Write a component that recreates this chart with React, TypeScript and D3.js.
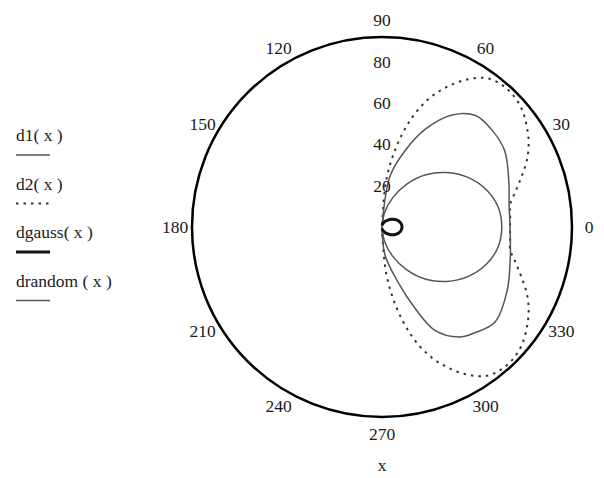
import React from "react";
import * as d3 from "d3";

// Sample angles (degrees) shared by the smooth patterns
const angles = [-90, -80, -70, -60, -50, -40, -30, -20, -10, 0, 10, 20, 30, 40, 50, 60, 70, 80, 90];
const d1Values = [0, 7, 15, 24, 33, 41, 48, 53.5, 57, 58, 57, 53.5, 48, 41, 33, 24, 15, 7, 0];
const dgaussValues = [0.8, 1.3, 2.1, 3.2, 4.4, 5.9, 7.3, 8.6, 9.4, 9.7, 9.4, 8.6, 7.3, 5.9, 4.4, 3.2, 2.1, 1.3, 0.8];

// d2 is sampled more finely
const d2Angles = [-90, -85, -80, -75, -70, -65, -60, -55, -50, -45, -40, -35, -30, -25, -20, -15, -10, -5, 0,
  5, 10, 15, 20, 25, 30, 35, 40, 45, 50, 55, 60, 65, 70, 75, 80, 85, 90];
const d2Values = [0, 22, 39, 54, 66, 75, 82.5, 88, 90, 90, 88.5, 85.5, 82, 77.5, 72, 67, 63, 62.3, 62,
  62.3, 63, 67, 72, 77.5, 82, 85.5, 88.5, 90, 90, 88, 82.5, 75, 66, 54, 39, 22, 0];

// Noisy measured pattern
const drandomAngles = [-90, -84, -74, -68, -63, -55, -49, -40, -27, -14, 0, 10, 19, 32, 42, 50, 58, 66, 73, 81, 90];
const drandomValues = [0, 13.5, 27.5, 42, 56, 65, 68, 71.5, 68, 64, 62, 62.5, 65, 70, 71, 70.5, 64, 52, 39, 25, 0];

const angleTicks = [0, 30, 60, 90, 120, 150, 180, 210, 240, 270, 300, 330];
const radialTicks = [20, 40, 60, 80];
const rMax = 92;

const legendItems = [
  { label: "d1( x )", key: "d1" },
  { label: "d2( x )", key: "d2" },
  { label: "dgauss( x )", key: "dgauss" },
  { label: "drandom ( x )", key: "drandom" },
];

const styles: Record<string, { stroke: string; width: number; dash?: string }> = {
  d1: { stroke: "#555", width: 1.5 },
  d2: { stroke: "#333", width: 2, dash: "2.5 5" },
  dgauss: { stroke: "#111", width: 3 },
  drandom: { stroke: "#555", width: 1.5 },
};

const FONT = "Liberation Serif, DejaVu Serif, serif";

export default function App() {
  const W = 604;
  const H = 478;
  const cx = 382;
  const cy = 227;
  const R = 190;
  const fs = 17.5;

  const r = d3.scaleLinear().domain([0, rMax]).range([0, R]);
  const toRad = (deg: number) => (deg * Math.PI) / 180;

  const radial = d3
    .lineRadial<[number, number]>()
    .angle((d) => Math.PI / 2 - toRad(d[0]))
    .radius((d) => r(d[1]))
    .curve(d3.curveCatmullRom);

  const zip = (a: number[], v: number[]) => a.map((t, i) => [t, v[i]] as [number, number]);

  const series = [
    { key: "d2", path: radial(zip(d2Angles, d2Values)) },
    { key: "drandom", path: radial(zip(drandomAngles, drandomValues)) },
    { key: "d1", path: radial(zip(angles, d1Values)) },
    { key: "dgauss", path: radial(zip(angles, dgaussValues)) },
  ];

  const labelR = R + 17;
  const textStyle = { fontFamily: FONT, fontSize: fs, fill: "#1a1a1a" } as React.CSSProperties;

  return (
    <svg width={W} height={H} style={{ position: "absolute", left: 0, top: 0, background: "#fff" }}>
      <rect width={W} height={H} fill="#fff" />
      <g transform={`translate(${cx},${cy})`}>
        <circle r={r(rMax)} fill="none" stroke="#000" strokeWidth={2.5} />
        {series.map((s) => {
          const st = styles[s.key];
          return (
            <path
              key={s.key}
              d={s.path || ""}
              fill="none"
              stroke={st.stroke}
              strokeWidth={st.width}
              strokeDasharray={st.dash}
              strokeLinejoin="round"
            />
          );
        })}
        {radialTicks.map((t) => (
          <text key={t} x={0} y={-r(t)} textAnchor="middle" dominantBaseline="central" style={textStyle}>
            {t}
          </text>
        ))}
        {angleTicks.map((a) => (
          <text
            key={a}
            x={labelR * Math.cos(toRad(a))}
            y={-labelR * Math.sin(toRad(a))}
            textAnchor="middle"
            dominantBaseline="central"
            style={textStyle}
          >
            {a}
          </text>
        ))}
        <text x={0} y={R + 48} textAnchor="middle" dominantBaseline="central" style={textStyle}>
          x
        </text>
      </g>
      <g transform="translate(16,0)">
        {legendItems.map((it, i) => {
          const st = styles[it.key];
          const ty = 135 + i * 48.5;
          return (
            <g key={it.key}>
              <text x={0} y={ty} dominantBaseline="central" style={textStyle}>
                {it.label}
              </text>
              <line
                x1={0}
                x2={34}
                y1={ty + 20}
                y2={ty + 20}
                stroke={st.stroke}
                strokeWidth={st.width}
                strokeDasharray={st.dash}
              />
            </g>
          );
        })}
      </g>
    </svg>
  );
}
